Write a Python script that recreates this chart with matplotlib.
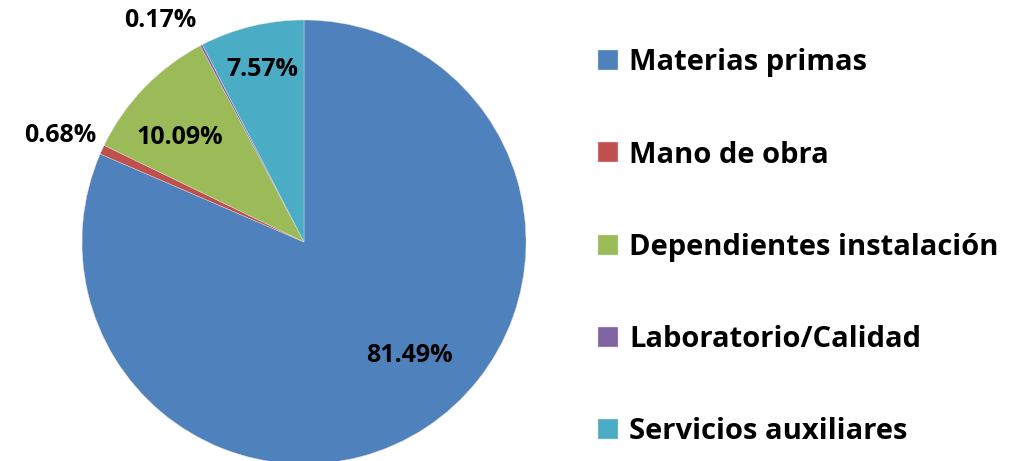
import matplotlib
matplotlib.use("Agg")
import matplotlib.pyplot as plt
import numpy as np

categories = ["Materias primas", "Mano de obra", "Dependientes instalación",
              "Laboratorio/Calidad", "Servicios auxiliares"]
shares = [81.49, 0.68, 10.09, 0.17, 7.57]
pct_labels = ["81.49%", "0.68%", "10.09%", "0.17%", "7.57%"]
colors = ["#4F81BD", "#C0504D", "#9BBB59", "#8064A2", "#4BACC6"]

plt.rcParams['font.family'] = ['Open Sans', 'DejaVu Sans']

W, H = 1026, 461
fig = plt.figure(figsize=(W / 100, H / 100), dpi=100)

# pie radius 222 px, centre at (304, 242) in image pixels
R = 222
cx, cy = 304, 242
ax = fig.add_axes([(cx - R) / W, (H - cy - R) / H, 2 * R / W, 2 * R / H])

wedges, _ = ax.pie(shares, colors=colors, startangle=90, counterclock=False,
                   wedgeprops=dict(linewidth=0.3, edgecolor="#dddddd"))
ax.set_xlim(-1, 1)
ax.set_ylim(-1, 1)
ax.set_aspect("equal")
ax.axis("off")

# label radius and angular nudge per slice
label_r = [0.70, 1.2, 0.73, 1.19, 0.80]
label_da = [9.5, 1, 4, 5.5, 0]
for w, txt, r, da in zip(wedges, pct_labels, label_r, label_da):
    ang = np.deg2rad((w.theta1 + w.theta2) / 2 + da)
    ax.text(r * np.cos(ang), r * np.sin(ang), txt, ha="center", va="center",
            fontsize=18, fontweight="bold", color="black", clip_on=False)

fig.legend(wedges, categories, loc="upper left",
           bbox_to_anchor=(572 / W, 1 - 22 / H),
           frameon=False, prop=dict(weight="bold", size=21),
           handlelength=0.68, handleheight=0.68, handletextpad=0.38,
           labelspacing=2.17)

fig.savefig("out.png", dpi=100)
